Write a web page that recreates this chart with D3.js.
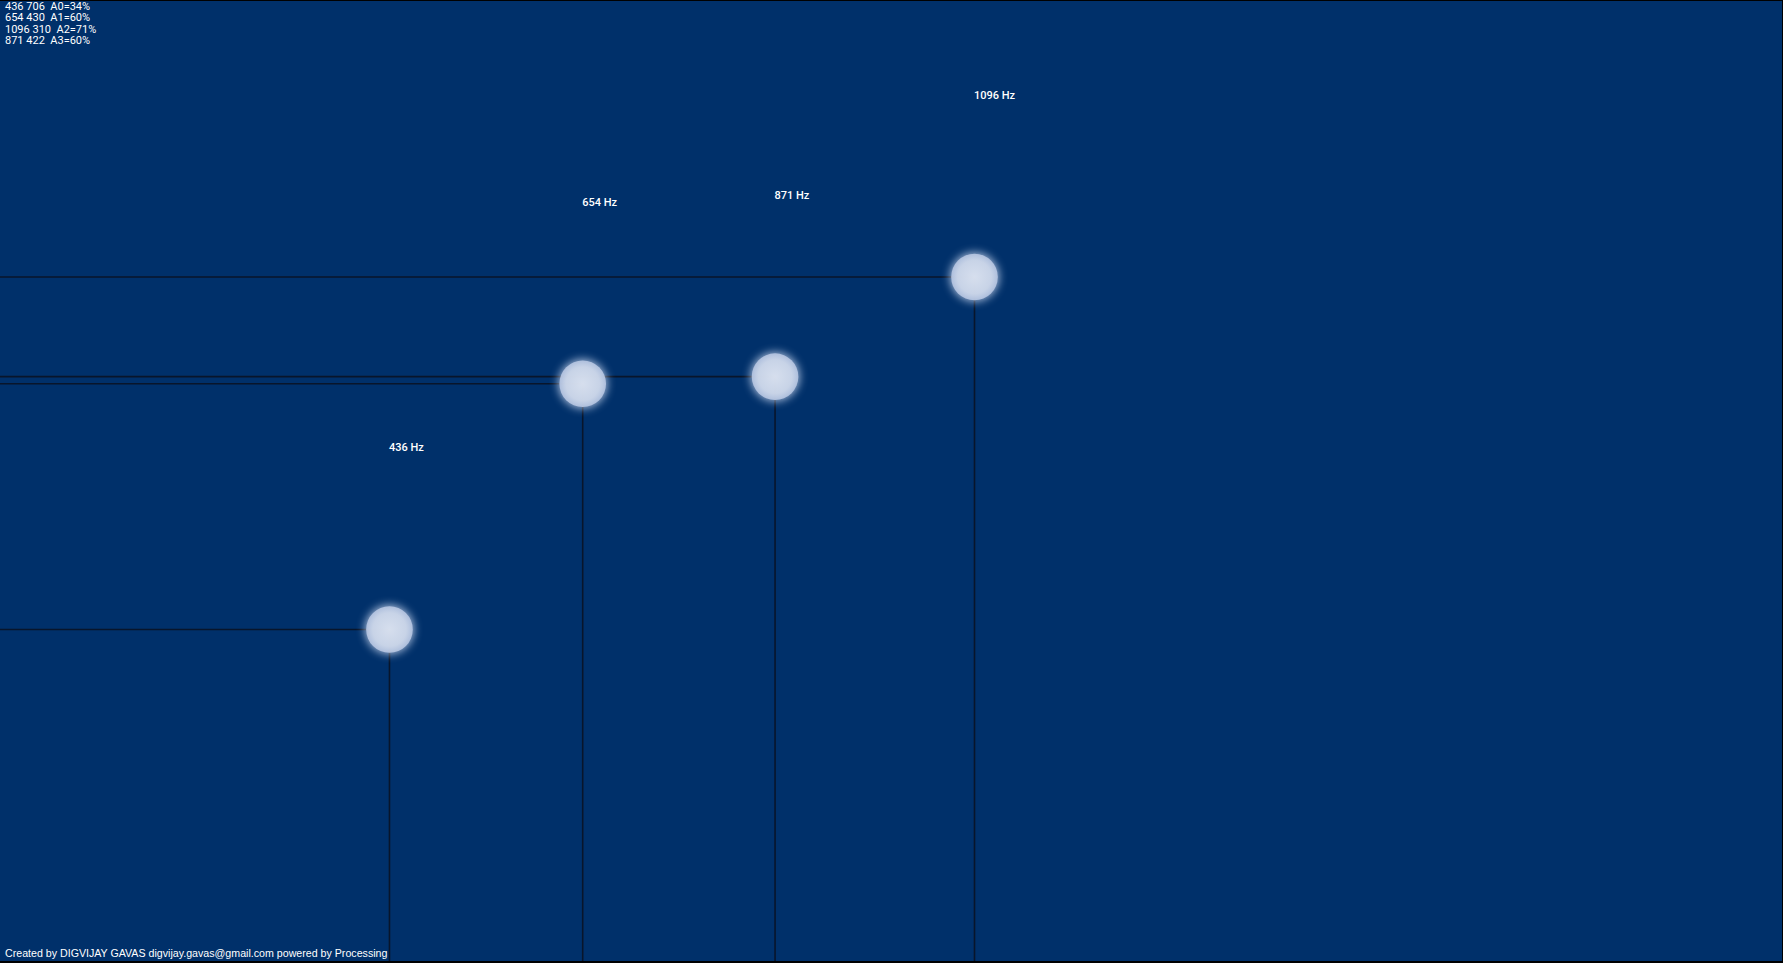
<!DOCTYPE html>
<html>
<head>
<meta charset="utf-8">
<script src="https://cdn.jsdelivr.net/npm/d3@7"></script>
<style>
html,body{margin:0;padding:0;background:#000;overflow:hidden;}
svg{display:block;}
</style>
</head>
<body>
<script>
// ---- data ----
const freqs = [436, 654, 1096, 871];
const yValues = [706, 430, 310, 422];
const amps = [34, 60, 71, 60];
const ampNames = ["A0", "A1", "A2", "A3"];
const footer = "Created by DIGVIJAY GAVAS digvijay.gavas@gmail.com powered by Processing";

const W = 1783, H = 963;
const svg = d3.select("body").append("svg").attr("width", W).attr("height", H);

const x = d3.scaleLinear().domain([0, 1000]).range([3.0, 889.4]);
const y = d3.scaleLinear().domain([0, 1000]).range([1.0, 891.2]);

const defs = svg.append("defs");
const glow = defs.append("filter").attr("id", "glow")
  .attr("x", "-60%").attr("y", "-60%").attr("width", "220%").attr("height", "220%");
glow.append("feGaussianBlur").attr("stdDeviation", 4);
const grad = defs.append("radialGradient").attr("id", "ball").attr("cx", "50%").attr("cy", "50%").attr("r", "50%");
grad.append("stop").attr("offset", "0%").attr("stop-color", "#d9e1ef");
grad.append("stop").attr("offset", "72%").attr("stop-color", "#cad5e8");
grad.append("stop").attr("offset", "100%").attr("stop-color", "#b3c3e0");

// background
svg.append("rect").attr("x", 0).attr("y", 1).attr("width", W - 1).attr("height", H - 3).attr("fill", "#00306a");

const data = freqs.map((f, i) => ({f, v: yValues[i], a: amps[i], n: ampNames[i]}));

// guide lines
const g = svg.append("g");
g.selectAll("line.h").data(data).join("line").attr("class", "h")
  .attr("x1", 0).attr("x2", d => x(d.f)).attr("y1", d => y(d.v)).attr("y2", d => y(d.v))
  .attr("stroke", "#08152b").attr("stroke-width", 1.6);
g.selectAll("line.v").data(data).join("line").attr("class", "v")
  .attr("x1", d => x(d.f)).attr("x2", d => x(d.f)).attr("y1", d => y(d.v)).attr("y2", H - 2)
  .attr("stroke", "#08152b").attr("stroke-width", 1.6);

// glow
g.selectAll("circle.glow").data(data).join("circle").attr("class", "glow")
  .attr("cx", d => x(d.f)).attr("cy", d => y(d.v)).attr("r", 24.5)
  .attr("fill", "#e4ecff").attr("opacity", 0.75).attr("filter", "url(#glow)");
// balls
g.selectAll("circle.ball").data(data).join("circle").attr("class", "ball")
  .attr("cx", d => x(d.f)).attr("cy", d => y(d.v)).attr("r", 23.3)
  .attr("fill", "url(#ball)").attr("opacity", 0.93);

// frequency labels
g.selectAll("text.lab").data(data).join("text").attr("class", "lab")
  .attr("x", d => x(d.f) - 0.5).attr("y", d => y(d.v - 200))
  .attr("fill", "#ffffff").attr("font-family", "Roboto, sans-serif").attr("font-weight", 500)
  .attr("font-size", 11).text(d => d.f + " Hz");

// info text top-left
svg.append("g").selectAll("text").data(data).join("text")
  .attr("x", 5).attr("y", (d, i) => 10 + i * 11.3)
  .attr("fill", "#ffffff").attr("font-family", "Roboto, sans-serif").attr("font-size", 11)
  .style("white-space", "pre")
  .text(d => d.f + " " + d.v + "  " + d.n + "=" + d.a + "%");

// footer
svg.append("text").attr("x", 5).attr("y", 957)
  .attr("fill", "#ffffff").attr("font-family", "'Liberation Sans', Arial, sans-serif").attr("font-size", 10.65)
  .text(footer);
</script>
</body>
</html>
